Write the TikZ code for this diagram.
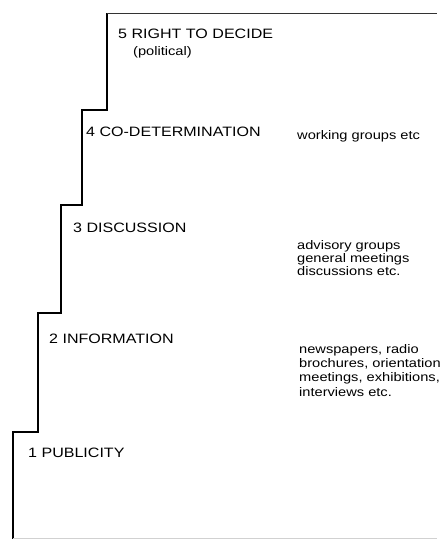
\documentclass[tikz,border=0pt]{standalone}
\usepackage{fontspec}
\newfontfamily\stepfont[FakeStretch=1.18]{Liberation Sans}
\begin{document}
\begin{tikzpicture}[x=1pt,y=-1pt,
  stairline/.style={line width=1.3pt,black,line join=miter},
  rimline/.style={line width=1pt,black!80},
  floorline/.style={line width=1pt,black!18},
  level/.style={anchor=base west,inner sep=0pt,font=\stepfont\fontsize{13.6}{16}\selectfont},
  means/.style={anchor=base west,inner sep=0pt,align=left,font=\stepfont\fontsize{12.4}{13.3}\selectfont},
  meanswide/.style={means,font=\stepfont\fontsize{12.4}{14.3}\selectfont}]
\useasboundingbox (0,0) rectangle (445,539);

% staircase outline
\draw[stairline] (107,13) -- (107,110) -- (82,110) -- (82,205) -- (61,205)
  -- (61,313) -- (38,313) -- (38,432) -- (13,432) -- (13,539);
\draw[rimline] (107,13) -- (437,13);
\draw[floorline] (13,538) -- (437,538);

% level names
\node[level] (l5) at (118,38) {5 RIGHT TO DECIDE};
\node[means] (l5n) at (133,55) {(political)};
\node[level] (l4) at (86,136) {4 CO-DETERMINATION};
\node[level] (l3) at (73,232) {3 DISCUSSION};
\node[level] (l2) at (49,343) {2 INFORMATION};
\node[level] (l1) at (28,457) {1 PUBLICITY};

% forms of participation
\node[means] (m4) at (297,139) {working groups etc};
\node[means,anchor=north west] (m3) at (297,240) {advisory groups\\general meetings\\discussions etc.};
\node[meanswide,anchor=north west] (m2) at (299,344) {newspapers, radio\\brochures, orientation\\meetings, exhibitions,\\interviews etc.};
\end{tikzpicture}
\end{document}
